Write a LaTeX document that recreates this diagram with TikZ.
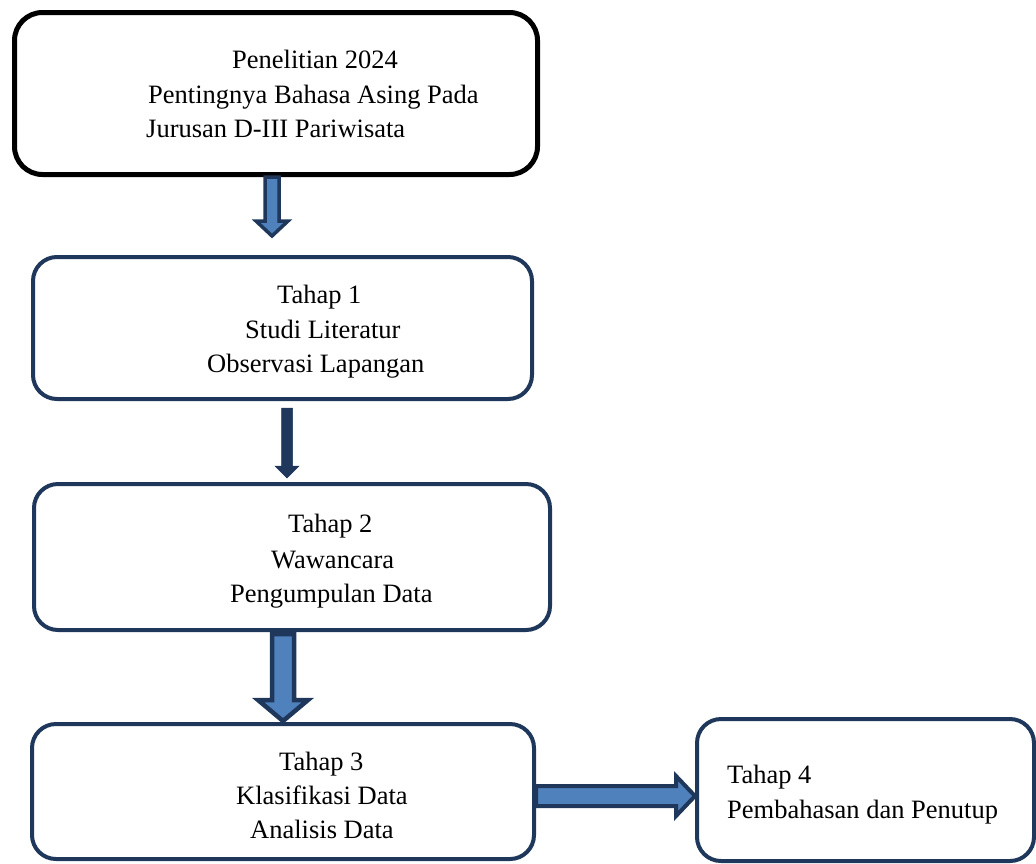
\documentclass[tikz,border=0pt]{standalone}
\usepackage{fontspec}
\setmainfont{Liberation Serif}
\usetikzlibrary{calc}
\definecolor{navy}{RGB}{30,55,90}
\definecolor{arrowblue}{RGB}{79,129,189}
\newcommand{\blkdown}[7]{%
  \path[#7] let \p1=(#1), \p2=(#2) in
    (#3pt-#4pt,\y1) -- (#3pt-#4pt,\y2+#6pt) -- (#3pt-#5pt,\y2+#6pt) -- (#3pt,\y2)
    -- (#3pt+#5pt,\y2+#6pt) -- (#3pt+#4pt,\y2+#6pt) -- (#3pt+#4pt,\y1) -- cycle;}
\begin{document}
\begin{tikzpicture}[x=1pt,y=-1pt,
  topbox/.style={draw=black,line width=5pt,rounded corners=28pt,inner sep=0pt},
  stagebox/.style={draw=navy,line width=4pt,rounded corners=24pt,inner sep=0pt},
  txt/.style={anchor=base west,inner sep=0pt,font=\fontsize{26.5}{32}\selectfont},
  hollowarrow/.style={draw=navy,fill=arrowblue,line join=miter},
  solidarrow/.style={fill=navy,draw=navy,line width=0.5pt}]
\useasboundingbox (0,0) rectangle (1036,863);
% boxes
\node[topbox,minimum width=523pt,minimum height=162pt] (b0) at (276,93.5) {};
\node[stagebox,minimum width=499pt,minimum height=142pt] (b1) at (282.5,328) {};
\node[stagebox,minimum width=516pt,minimum height=146pt] (b2) at (292,557) {};
\node[stagebox,minimum width=502pt,minimum height=135pt] (b3) at (283,791.5) {};
\node[stagebox,minimum width=337pt,minimum height=142pt] (b4) at (865.5,790) {};
% texts
\node[txt] (t0a) at (232,68) {Penelitian 2024};
\node[txt] (t0b) at (148,103) {Pentingnya Bahasa Asing Pada};
\node[txt] (t0c) at (146,137) {Jurusan D-III Pariwisata};
\node[txt] (t1a) at (277,303) {Tahap 1};
\node[txt] (t1b) at (245,338) {Studi Literatur};
\node[txt] (t1c) at (207,372) {Observasi Lapangan};
\node[txt] (t2a) at (288,532) {Tahap 2};
\node[txt] (t2b) at (271,568) {Wawancara};
\node[txt] (t2c) at (230,602) {Pengumpulan Data};
\node[txt] (t3a) at (279,770) {Tahap 3};
\node[txt] (t3b) at (236,804) {Klasifikasi Data};
\node[txt] (t3c) at (250,838) {Analisis Data};
\node[txt] (t4a) at (727,783) {Tahap 4};
\node[txt] (t4b) at (727,818) {Pembahasan dan Penutup};
% connector end points
\coordinate (a1s) at (272,177);
\coordinate (a1e) at (272,236);
\coordinate (a2s) at (287,408);
\coordinate (a2e) at (287,478);
\coordinate (a3s) at (283,634);
\coordinate (a3e) at (283,721);
% arrows
\blkdown{a1s}{a1e}{272}{7}{16}{15}{hollowarrow,line width=3.5pt}
\blkdown{a2s}{a2e}{287}{5.5}{12}{12}{solidarrow}
\blkdown{a3s}{a3e}{283}{11}{25}{21}{hollowarrow,line width=4.5pt}
\path[hollowarrow,line width=4pt] let \p1=(b3.east), \p2=(b4.west) in
  (\x1,-786pt) -- (\x2-19pt,-786pt) -- (\x2-19pt,-776pt) -- (\x2,-796pt)
  -- (\x2-19pt,-816pt) -- (\x2-19pt,-806pt) -- (\x1,-806pt) -- cycle;
\end{tikzpicture}
\end{document}
